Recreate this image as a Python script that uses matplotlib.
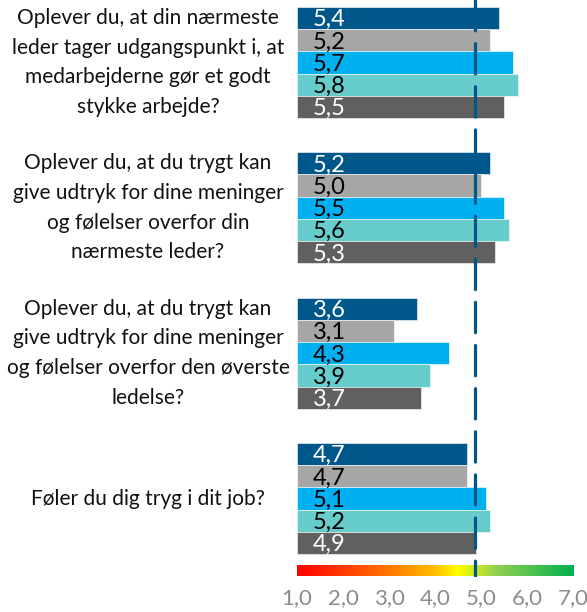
import matplotlib
matplotlib.use("Agg")
import matplotlib.pyplot as plt
import matplotlib.transforms as mtransforms
from matplotlib.colors import LinearSegmentedColormap
import numpy as np

plt.rcParams['font.family'] = ['Lato', 'DejaVu Sans']

# --- data ---
questions = [
    "Oplever du, at din nærmeste\nleder tager udgangspunkt i, at\nmedarbejderne gør et godt\nstykke arbejde?",
    "Oplever du, at du trygt kan\ngive udtryk for dine meninger\nog følelser overfor din\nnærmeste leder?",
    "Oplever du, at du trygt kan\ngive udtryk for dine meninger\nog følelser overfor den øverste\nledelse?",
    "Føler du dig tryg i dit job?",
]
series_1 = [5.4, 5.2, 3.6, 4.7]
series_2 = [5.2, 5.0, 3.1, 4.7]
series_3 = [5.7, 5.5, 4.3, 5.1]
series_4 = [5.8, 5.6, 3.9, 5.2]
series_5 = [5.5, 5.3, 3.7, 4.9]
reference_value = 4.88
scale_ticks = [1, 2, 3, 4, 5, 6, 7]

series = [series_1, series_2, series_3, series_4, series_5]
colors = ["#00578A", "#A6A6A6", "#00B0F0", "#66CCCC", "#606060"]
text_colors = ["white", "black", "black", "black", "white"]

fig = plt.figure(figsize=(5.87, 6.12), dpi=100)
ax = fig.add_axes([297 / 587, 1 - 577 / 612, 276 / 587, 577 / 612])

bar_h = 0.153
for i, q in enumerate(questions):
    for j, vals in enumerate(series):
        y = i - 2 * bar_h + j * bar_h
        v = vals[i]
        ax.barh(y, v - 1, left=1, height=bar_h, color=colors[j],
                edgecolor="white", linewidth=0.4)
        ax.text(1.35, y + 0.012, f"{v:.1f}".replace(".", ","), color=text_colors[j],
                fontsize=17, va="center", ha="left")

# question labels to the left of the bars
trans = mtransforms.blended_transform_factory(fig.transFigure, ax.transData)
for i, q in enumerate(questions):
    ax.text(148 / 587, i, q, transform=trans, ha="center", va="center",
            fontsize=15, linespacing=1.6, color="#111111")

# gradient scale bar
cmap = LinearSegmentedColormap.from_list("scale", [
    (0.0, "#FF0000"), (0.3, "#FF6A00"), (0.5, "#FFC000"),
    (0.58, "#FFFF00"), (0.72, "#92D050"), (1.0, "#00B050")])
grad = np.linspace(0, 1, 256).reshape(1, -1)
ax.imshow(grad, cmap=cmap, aspect="auto", extent=[1, 7, 3.535, 3.465], zorder=1)

# dashed reference line
ax.plot([reference_value, reference_value], [-0.43, 3.535], color="#00578A",
        lw=2.3, dashes=(9.5, 4), solid_capstyle="round", dash_capstyle="round",
        zorder=5)

ax.set_xlim(1, 7)
ax.set_ylim(3.54, -0.43)
ax.set_xticks(scale_ticks)
ax.set_xticklabels([f"{t:.1f}".replace(".", ",") for t in scale_ticks],
                   color="#8C8C8C", fontsize=16)
ax.tick_params(axis="x", length=0, pad=8)
ax.set_yticks([])
for s in ax.spines.values():
    s.set_visible(False)

fig.savefig("out.png", dpi=100)
